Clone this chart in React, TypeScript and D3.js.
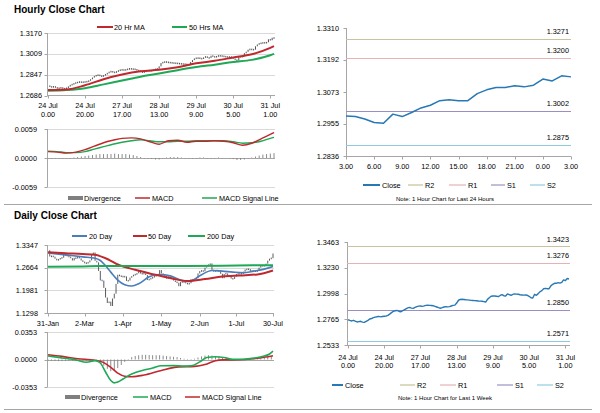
import { useEffect, useRef } from 'react';
import * as d3 from 'd3';

const FONT = '"Liberation Sans", Arial, Helvetica, sans-serif';

// hourly closes, 24 Jul 0.00 -> 31 Jul 3.00
const weekClose = [
  1.2761, 1.2755, 1.2750, 1.2756, 1.2748, 1.2741, 1.2744, 1.2747, 1.2740, 1.2737,
  1.2746, 1.2755, 1.2768, 1.2772, 1.2780, 1.2785, 1.2788, 1.2792, 1.2787, 1.2790,
  1.2792, 1.2794, 1.2800, 1.2812, 1.2825, 1.2836, 1.2842, 1.2845, 1.2838, 1.2833,
  1.2842, 1.2850, 1.2860, 1.2868, 1.2873, 1.2866, 1.2864, 1.2872, 1.2879, 1.2884,
  1.2885, 1.2882, 1.2886, 1.2891, 1.2893, 1.2891, 1.2890, 1.2888, 1.2882, 1.2876,
  1.2870, 1.2865, 1.2870, 1.2876, 1.2879, 1.2877, 1.2879, 1.2885, 1.2891, 1.2893,
  1.2912, 1.2937, 1.2944, 1.2946, 1.2944, 1.2941, 1.2940, 1.2938, 1.2936, 1.2935,
  1.2934, 1.2932, 1.2930, 1.2929, 1.2928, 1.2925, 1.2921, 1.2945, 1.2960, 1.2973,
  1.2975, 1.2976, 1.2973, 1.2970, 1.2980, 1.2988, 1.2978, 1.2976, 1.2994, 1.2988,
  1.2982, 1.2990, 1.2994, 1.2992, 1.2991, 1.2987, 1.2985, 1.2983, 1.2984, 1.2982,
  1.2973, 1.2960, 1.2957, 1.2991, 1.2982, 1.2997, 1.3014, 1.3024, 1.3041, 1.3044,
  1.3041, 1.3041, 1.3067, 1.3081, 1.3090, 1.3090, 1.3096, 1.3092, 1.3098, 1.3121,
  1.3114, 1.3133, 1.3129
];
const weekTickIdx = [0, 20, 40, 60, 80, 100, 120];
const weekTickDay = ['24 Jul', '24 Jul', '27 Jul', '28 Jul', '29 Jul', '30 Jul', '31 Jul'];
const weekTickHour = ['0.00', '20.00', '17.00', '13.00', '9.00', '5.00', '1.00'];

const hourMaIdx = [0, 10, 20, 30, 40, 50, 60, 70, 80, 90, 100, 110, 120, 122];
const ma20Hr = [1.2728, 1.2732, 1.2765, 1.2812, 1.2848, 1.2873, 1.2885, 1.2905, 1.2935, 1.2955, 1.2980, 1.3005, 1.3055, 1.3068];
const ma50Hr = [1.2722, 1.2728, 1.2742, 1.2772, 1.2802, 1.2832, 1.2856, 1.2882, 1.2906, 1.2925, 1.2945, 1.2962, 1.2998, 1.3008];

const hourMacdIdx = [0, 5, 10, 15, 20, 25, 30, 35, 40, 45, 50, 55, 60, 65, 70, 75, 80, 85, 90, 95, 100, 105, 110, 115, 120, 122];
const hourMacd = [0.0013, 0.0012, 0.0010, 0.0012, 0.0017, 0.0024, 0.0031, 0.0036, 0.0040, 0.0041, 0.0039, 0.0033, 0.0028,
  0.0035, 0.0036, 0.0032, 0.0034, 0.0034, 0.0035, 0.0034, 0.0031, 0.0026, 0.0030, 0.0039, 0.0048, 0.0052];
const hourSignal = [0.0014, 0.0013, 0.0011, 0.0011, 0.0013, 0.0018, 0.0023, 0.0028, 0.0032, 0.0035, 0.0037, 0.0035, 0.0033,
  0.0033, 0.0034, 0.0034, 0.0035, 0.0035, 0.0035, 0.0035, 0.0033, 0.0030, 0.0031, 0.0034, 0.0040, 0.0042];
// every 2nd hour
const hourDivergence = [
  0.0000, -0.0001, -0.0001, -0.0001, -0.0001, -0.0001, 0.0000, 0.0001, 0.0002, 0.0003,
  0.0004, 0.0005, 0.0006, 0.0007, 0.0008, 0.0008, 0.0008, 0.0008, 0.0009, 0.0008,
  0.0008, 0.0008, 0.0007, 0.0006, 0.0004, 0.0002, 0.0000, -0.0001, -0.0002, -0.0003,
  -0.0003, -0.0001, 0.0001, 0.0002, 0.0002, 0.0002, 0.0001, 0.0000, -0.0001, -0.0001,
  0.0000, 0.0001, 0.0001, 0.0000, 0.0000, 0.0000, 0.0001, 0.0000, -0.0001, -0.0001,
  -0.0002, -0.0004, -0.0004, -0.0003, -0.0001, 0.0001, 0.0003, 0.0005, 0.0007, 0.0008,
  0.0009, 0.0010
];

const hour24Labels = ['3.00', '6.00', '9.00', '12.00', '15.00', '18.00', '21.00', '0.00', '3.00'];
const levels24 = [1.3271, 1.3200, 1.3002, 1.2875];
const levelsWeek = [1.3423, 1.3276, 1.2850, 1.2571];
const levelNames = ['R2', 'R1', 'S1', 'S2'];
const levelColors = ['#c9c29a', '#e6b2b2', '#9b8fc2', '#8fcbe0'];

// daily closes 31 Jan -> 30 Jul
const dayClose = [
  1.3190,
  1.3000, 1.3010, 1.2995, 1.2935, 1.2885, 1.2915, 1.2950, 1.2965, 1.3045, 1.3050,
  1.3005, 1.2995, 1.2950, 1.2880, 1.2960, 1.2940, 1.2995, 1.2945, 1.2880, 1.2840,
  1.2800, 1.2800, 1.2825, 1.2885, 1.3045, 1.3120, 1.2870, 1.2825, 1.2565, 1.2280, 1.2275,
  1.2055, 1.1765, 1.1600, 1.1640, 1.1510, 1.1735, 1.1880, 1.2175, 1.2450, 1.2410, 1.2405,
  1.2385, 1.2400, 1.2265, 1.2275, 1.2365, 1.2405, 1.2450, 1.2455, 1.2495, 1.2595, 1.2485,
  1.2480, 1.2490, 1.2440, 1.2295, 1.2315, 1.2350, 1.2365, 1.2420, 1.2415, 1.2470, 1.2590,
  1.2490, 1.2430, 1.2435, 1.2335, 1.2405, 1.2405, 1.2335, 1.2275, 1.2235, 1.2210, 1.2105,
  1.2230, 1.2235, 1.2225, 1.2205, 1.2165, 1.2195, 1.2320, 1.2280, 1.2320, 1.2345,
  1.2490, 1.2560, 1.2570, 1.2555, 1.2665, 1.2730, 1.2745, 1.2790, 1.2600, 1.2545, 1.2585,
  1.2565, 1.2560, 1.2480, 1.2345, 1.2475, 1.2490, 1.2415, 1.2425, 1.2335, 1.2325, 1.2395,
  1.2475, 1.2475, 1.2485, 1.2475, 1.2545, 1.2610, 1.2610, 1.2620, 1.2560, 1.2565, 1.2570,
  1.2545, 1.2575, 1.2665, 1.2730, 1.2720, 1.2725, 1.2785, 1.2875, 1.2935, 1.2950, 1.3090
];
const dayTickIdx = [0, 21, 43, 65, 87, 108, 129];
const dayTickLabels = ['31-Jan', '2-Mar', '1-Apr', '1-May', '2-Jun', '1-Jul', '30-Jul'];

const day20Idx = [0, 10, 20, 27, 30, 33, 36, 40, 44, 48, 52, 58, 64, 70, 76, 81, 87, 94, 100, 106, 112, 118, 124, 129];
const day20 = [1.3110, 1.3050, 1.2990, 1.2950, 1.2880, 1.2720, 1.2530, 1.2290, 1.2150, 1.2112, 1.2180, 1.2390,
  1.2460, 1.2420, 1.2290, 1.2245, 1.2420, 1.2580, 1.2560, 1.2530, 1.2510, 1.2560, 1.2620, 1.2700];
const day50Idx = [0, 10, 20, 27, 35, 40, 50, 60, 70, 80, 90, 100, 110, 120, 129];
const day50 = [1.3130, 1.3100, 1.3075, 1.3050, 1.2900, 1.2760, 1.2600, 1.2470, 1.2350, 1.2260, 1.2320, 1.2400, 1.2430, 1.2460, 1.2580];
const day200Idx = [0, 20, 30, 50, 80, 100, 129];
const day200 = [1.2690, 1.2700, 1.2712, 1.2712, 1.2718, 1.2725, 1.2740];

const dayMacdIdx = [0, 8, 16, 22, 27, 30, 33, 36, 38, 40, 43, 48, 55, 60, 65, 72, 78, 82, 87, 91, 96, 101, 106, 112, 118, 124, 127, 129];
const dayMacd = [0.0045, 0.0020, -0.0005, -0.0035, -0.0015, -0.0045, -0.0160, -0.0270, -0.0300, -0.0290, -0.0250, -0.0185,
  -0.0135, -0.0110, -0.0080, -0.0078, -0.0085, -0.0082, -0.0030, 0.0025, 0.0036, 0.0025, 0.0002, 0.0004, 0.0018, 0.0045, 0.0070, 0.0107];
const daySignalIdx = [0, 8, 17, 27, 32, 36, 40, 44, 48, 55, 65, 75, 84, 90, 96, 100, 106, 113, 120, 129];
const daySignal = [0.0062, 0.0040, 0.0010, -0.0010, -0.0040, -0.0100, -0.0175, -0.0215, -0.0222, -0.0200, -0.0140,
  -0.0095, -0.0088, -0.0065, -0.0015, -0.0005, -0.0005, 0.0000, 0.0015, 0.0048];
// every 2nd day
const dayDivergence = [
  -0.0015, -0.0015, -0.0018, -0.0020, -0.0020, -0.0018, -0.0015, -0.0015, -0.0012, -0.0012,
  -0.0015, -0.0020, -0.0015, -0.0008, -0.0010, -0.0030, -0.0080, -0.0120, -0.0150, -0.0140,
  -0.0110, -0.0070, -0.0030, 0.0005, 0.0030, 0.0045, 0.0055, 0.0060, 0.0060, 0.0058,
  0.0055, 0.0055, 0.0055, 0.0050, 0.0045, 0.0040, 0.0035, 0.0030, 0.0020, 0.0010,
  0.0005, 0.0005, 0.0010, 0.0025, 0.0040, 0.0050, 0.0055, 0.0050, 0.0045, 0.0040,
  0.0030, 0.0020, 0.0010, 0.0005, 0.0000, -0.0005, 0.0000, 0.0005, 0.0008, 0.0010,
  0.0012, 0.0015, 0.0020, 0.0030, 0.0045
];

const hourPriceTicks = [1.2686, 1.2847, 1.3009, 1.3170];
const hourMacdTicks = [-0.0059, 0, 0.0059];
const dayPriceTicks = [1.1298, 1.1981, 1.2664, 1.3347];
const dayMacdTicks = [-0.0353, 0, 0.0353];
const last24Ticks = [1.2836, 1.2955, 1.3073, 1.3192, 1.3310];
const weekTicks = [1.2533, 1.2765, 1.2998, 1.3230, 1.3463];

const RED = '#c0282d';
const GREEN = '#1fa855';
const BLUE = '#4a7ebb';
const CLOSE = '#2878b5';
const GRID = '#d9d9d9';
const AXIS = '#a6a6a6';

export default function App() {
  const svgRef = useRef<SVGSVGElement>(null);

  useEffect(() => {
    if (!svgRef.current) return;
    const svg = d3.select(svgRef.current);
    svg.selectAll('*').remove();

    const text = (x: number, y: number, s: string, size = 7.3, anchor = 'start', weight = 'normal') =>
      svg.append('text')
        .attr('x', x)
        .attr('y', y)
        .attr('font-family', FONT)
        .attr('font-size', size)
        .attr('font-weight', weight)
        .attr('text-anchor', anchor)
        .attr('fill', '#000')
        .text(s);

    const seg = (x1: number, y1: number, x2: number, y2: number, color: string, w = 1) =>
      svg.append('line')
        .attr('x1', x1).attr('y1', y1).attr('x2', x2).attr('y2', y2)
        .attr('stroke', color).attr('stroke-width', w);

    const curve = (xs: d3.ScaleLinear<number, number>, ys: d3.ScaleLinear<number, number>,
      idx: number[], vals: number[], color: string, w: number, smooth = true) => {
      const line = d3.line<number>()
        .x((d, i) => xs(idx[i]))
        .y(d => ys(d))
        .curve(smooth ? d3.curveMonotoneX : d3.curveLinear);
      svg.append('path')
        .attr('d', line(vals) || '')
        .attr('fill', 'none')
        .attr('stroke', color)
        .attr('stroke-width', w)
        .attr('stroke-linejoin', 'round');
    };

    const bars = (xs: d3.ScaleLinear<number, number>, ys: d3.ScaleLinear<number, number>, vals: number[], color: string) => {
      vals.forEach((v, i) => {
        if (i === 0) return;
        const a = ys(vals[i - 1]);
        const b = ys(v);
        let top = Math.min(a, b);
        let bot = Math.max(a, b);
        if (bot - top < 1.6) {
          const m = (top + bot) / 2;
          top = m - 0.8;
          bot = m + 0.8;
        }
        seg(xs(i), top, xs(i), bot, color, 0.9);
      });
    };

    const histogram = (xs: d3.ScaleLinear<number, number>, ys: d3.ScaleLinear<number, number>, step: number, vals: number[]) => {
      vals.forEach((v, k) => {
        const x = xs(k * step);
        const y0 = ys(0);
        const y1 = ys(v);
        svg.append('rect')
          .attr('x', x - 0.45)
          .attr('y', Math.min(y0, y1))
          .attr('width', 0.9)
          .attr('height', Math.max(0.5, Math.abs(y1 - y0)))
          .attr('fill', '#7f7f7f');
      });
    };

    const yLabels = (ys: d3.ScaleLinear<number, number>, ticks: number[], xRight: number, axisX: number) => {
      ticks.forEach(t => {
        text(xRight, ys(t) + 2.6, t.toFixed(4), 7.3, 'end');
        seg(axisX - 3, Math.round(ys(t)) + 0.5, axisX, Math.round(ys(t)) + 0.5, AXIS);
      });
    };

    const grid = (ys: d3.ScaleLinear<number, number>, ticks: number[], x1: number, x2: number) => {
      ticks.forEach(t => seg(x1, Math.round(ys(t)) + 0.5, x2, Math.round(ys(t)) + 0.5, GRID));
    };

    // ---------- Hourly close chart (top left) ----------
    text(14, 13, 'Hourly Close Chart', 10, 'start', 'bold');
    seg(97, 27, 113, 27, RED, 2);
    text(114, 29.6, '20 Hr MA');
    seg(172, 27, 187, 27, GREEN, 2);
    text(189, 29.6, '50 Hrs MA');

    const xH = d3.scaleLinear().domain([0, 122]).range([48, 274]);
    const yH = d3.scaleLinear().domain([1.2686, 1.3170]).range([95.5, 33]);
    grid(yH, hourPriceTicks.slice(1), 47, 275);
    seg(47.5, 33, 47.5, 96, AXIS);
    seg(47, 95.5, 275, 95.5, AXIS);
    yLabels(yH, hourPriceTicks, 42, 47.5);
    weekTickIdx.forEach((t, i) => {
      seg(Math.round(xH(t)) + 0.5, 95.5, Math.round(xH(t)) + 0.5, 98.5, AXIS);
      text(xH(t), 108, weekTickDay[i], 7.3, 'middle');
      text(xH(t), 116.5, weekTickHour[i], 7.3, 'middle');
    });
    bars(xH, yH, weekClose, '#3a3a3a');
    curve(xH, yH, hourMaIdx, ma50Hr, GREEN, 2);
    curve(xH, yH, hourMaIdx, ma20Hr, RED, 2);

    // hourly MACD
    const yHM = d3.scaleLinear().domain([-0.0059, 0.0059]).range([187, 129]);
    grid(yHM, [-0.0059, 0.0059], 47, 275);
    seg(47.5, 129, 47.5, 187, AXIS);
    seg(47, Math.round(yHM(0)) + 0.5, 275, Math.round(yHM(0)) + 0.5, AXIS);
    yLabels(yHM, hourMacdTicks, 37, 47.5);
    histogram(xH, yHM, 2, hourDivergence);
    curve(xH, yHM, hourMacdIdx, hourSignal, GREEN, 1.4);
    curve(xH, yHM, hourMacdIdx, hourMacd, RED, 1.4);

    svg.append('rect').attr('x', 68).attr('y', 196).attr('width', 15).attr('height', 4).attr('fill', '#7f7f7f');
    text(84, 200.6, 'Divergence');
    seg(135, 198, 150, 198, RED, 1.5);
    text(152, 200.6, 'MACD');
    seg(202, 198, 217, 198, GREEN, 1.5);
    text(219, 200.6, 'MACD Signal Line');

    // ---------- Last 24 hours (top right) ----------
    const last24 = weekClose.slice(98);
    const x24 = d3.scaleLinear().domain([0, 24]).range([346, 571]);
    const y24 = d3.scaleLinear().domain([1.2836, 1.3310]).range([156, 28]);
    seg(346.5, 28, 346.5, 156.5, AXIS);
    seg(346, 156.5, 571, 156.5, AXIS);
    yLabels(y24, last24Ticks, 339, 346.5);
    hour24Labels.forEach((s, i) => {
      const x = Math.round(x24(i * 3)) + 0.5;
      seg(x, 156.5, x, 159.5, AXIS);
      text(x24(i * 3), 168.5, s, 7.3, 'middle');
    });
    levels24.forEach((l, i) => {
      seg(346, Math.round(y24(l)) + 0.5, 571, Math.round(y24(l)) + 0.5, levelColors[i], 1.2);
      text(569, y24(l) - 5, l.toFixed(4), 7.3, 'end');
    });
    curve(x24, y24, d3.range(last24.length), last24, CLOSE, 1.5, false);

    const legend = (y: number, spots: number[][]) => {
      const names = ['Close', ...levelNames];
      const colors = [CLOSE, ...levelColors];
      spots.forEach(([a, b], i) => {
        seg(a, y, b, y, colors[i], i === 0 ? 2 : 1.2);
        text(b + 2, y + 2.6, names[i]);
      });
    };
    legend(185, [[363, 380], [408, 423], [449, 466], [491, 505], [530, 545]]);
    text(445, 200.5, 'Note: 1 Hour Chart for Last 24 Hours', 6, 'middle');

    // separators
    seg(4, 204.5, 592, 204.5, AXIS);
    seg(4, 409.5, 592, 409.5, AXIS);

    // ---------- Daily close chart (bottom left) ----------
    text(14, 219, 'Daily Close Chart', 10, 'start', 'bold');
    seg(72, 236, 87, 236, BLUE, 2);
    text(89, 238.6, '20 Day');
    seg(133, 236, 147, 236, RED, 2);
    text(148, 238.6, '50 Day');
    seg(188, 236, 205, 236, GREEN, 2);
    text(207, 238.6, '200 Day');

    const xD = d3.scaleLinear().domain([0, 129]).range([48, 273]);
    const yD = d3.scaleLinear().domain([1.1298, 1.3347]).range([313, 245]);
    grid(yD, dayPriceTicks.slice(1), 47, 274);
    seg(47.5, 245, 47.5, 313.5, AXIS);
    seg(47, 313.5, 274, 313.5, AXIS);
    yLabels(yD, dayPriceTicks, 38, 47.5);
    dayTickIdx.forEach((t, i) => {
      seg(Math.round(xD(t)) + 0.5, 313.5, Math.round(xD(t)) + 0.5, 316.5, AXIS);
      text(xD(t), 325.5, dayTickLabels[i], 7.3, 'middle');
    });
    bars(xD, yD, dayClose, '#474747');
    curve(xD, yD, day20Idx, day20, BLUE, 1.6);
    curve(xD, yD, day50Idx, day50, RED, 2);
    curve(xD, yD, day200Idx, day200, GREEN, 2);

    // daily MACD
    const yDM = d3.scaleLinear().domain([-0.0353, 0.0353]).range([387, 332]);
    grid(yDM, [-0.0353, 0.0353], 47, 274);
    seg(47.5, 332, 47.5, 387, AXIS);
    seg(47, Math.round(yDM(0)) + 0.5, 274, Math.round(yDM(0)) + 0.5, AXIS);
    yLabels(yDM, dayMacdTicks, 37, 47.5);
    histogram(xD, yDM, 2, dayDivergence);
    curve(xD, yDM, daySignalIdx, daySignal, RED, 1.6);
    curve(xD, yDM, dayMacdIdx, dayMacd, GREEN, 1.6);

    svg.append('rect').attr('x', 65).attr('y', 395).attr('width', 15).attr('height', 4).attr('fill', '#7f7f7f');
    text(81, 399.6, 'Divergence');
    seg(133, 397, 148, 397, GREEN, 1.5);
    text(150, 399.6, 'MACD');
    seg(185, 397, 200, 397, RED, 1.5);
    text(202, 399.6, 'MACD Signal Line');

    // ---------- Last week hourly (bottom right) ----------
    const xWk = d3.scaleLinear().domain([0, 122]).range([348, 569]);
    const yWk = d3.scaleLinear().domain([1.2533, 1.3463]).range([345, 242]);
    seg(347.5, 242, 347.5, 345.5, AXIS);
    seg(347, 345.5, 570, 345.5, AXIS);
    yLabels(yWk, weekTicks, 339, 347.5);
    weekTickIdx.forEach((t, i) => {
      const x = Math.round(xWk(t)) + 0.5;
      seg(x, 345.5, x, 348.5, AXIS);
      text(xWk(t), 359.5, weekTickDay[i], 7.3, 'middle');
      text(xWk(t), 368, weekTickHour[i], 7.3, 'middle');
    });
    levelsWeek.forEach((l, i) => {
      seg(347, Math.round(yWk(l)) + 0.5, 570, Math.round(yWk(l)) + 0.5, levelColors[i], 1.2);
      text(569, yWk(l) - 4.5, l.toFixed(4), 7.3, 'end');
    });
    curve(xWk, yWk, d3.range(weekClose.length), weekClose, CLOSE, 1.4, false);
    legend(385, [[332, 343], [400, 415], [440, 456], [497, 513], [537, 553]]);
    text(445, 400, 'Note: 1 Hour Chart for Last 1 Week', 6, 'middle');
  }, []);

  return (
    <svg
      ref={svgRef}
      width={600}
      height={413}
      style={{ position: 'absolute', left: 0, top: 0, background: '#fff' }}
    />
  );
}
